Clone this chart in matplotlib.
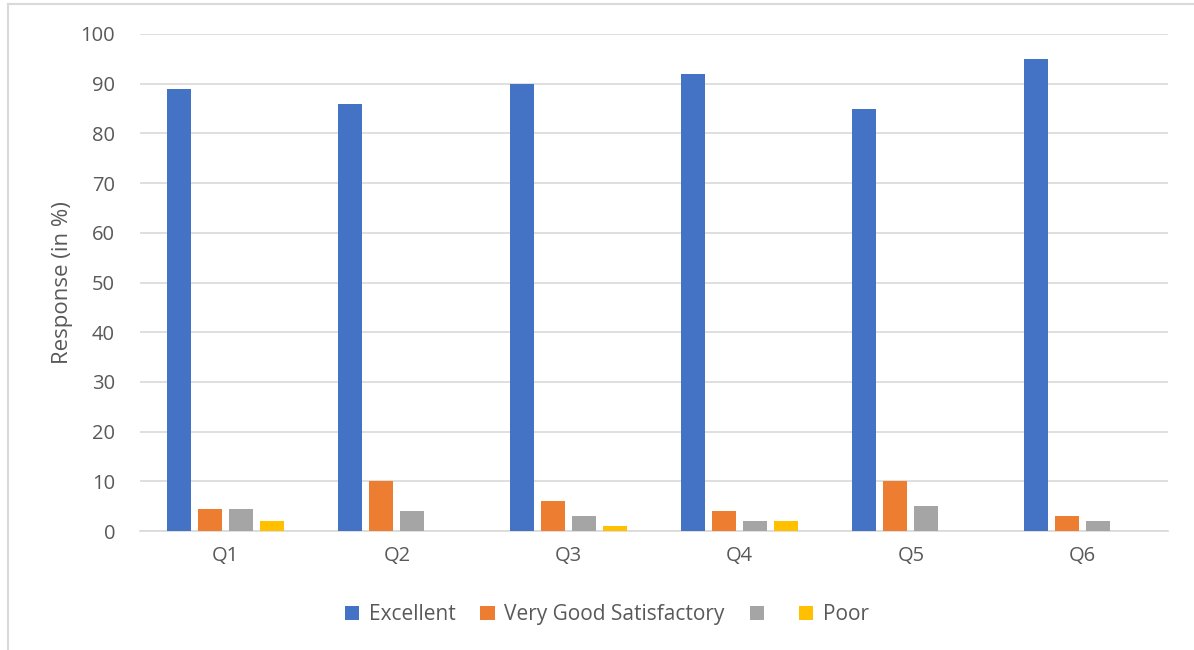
import matplotlib.pyplot as plt
import numpy as np
from matplotlib.lines import Line2D
from matplotlib.patches import Patch

plt.rcParams["font.family"] = ["Open Sans", "DejaVu Sans"]

questions = ["Q1", "Q2", "Q3", "Q4", "Q5", "Q6"]
excellent = [89, 86, 90, 92, 85, 95]
very_good = [4.5, 10, 6, 4, 10, 3]
satisfactory = [4.5, 4, 3, 2, 5, 2]
poor = [2, 0, 1, 2, 0, 0]

series = [excellent, very_good, satisfactory, poor]
legend_labels = ["Excellent", "Very Good Satisfactory", "", "Poor"]
colors = ["#4472C4", "#ED7D31", "#A5A5A5", "#FFC000"]

TEXT = "#595959"
GRID = "#D9D9D9"

fig = plt.figure(figsize=(11.94, 6.5), dpi=100)
ax = fig.add_axes([0.1173, 0.183, 0.8607, 0.7647])

x = np.arange(len(questions))
width = 0.14
step = 0.181
for i, (vals, c) in enumerate(zip(series, colors)):
    ax.bar(x + (i - 1.5) * step, vals, width=width, color=c, zorder=3)

ax.set_xlim(-0.5, len(questions) - 0.5)
ax.set_ylim(0, 100)
ax.set_yticks(range(0, 101, 10))
ax.set_xticks(x)
ax.set_xticklabels(questions)
ax.grid(axis="y", color=GRID, linewidth=1.2, zorder=0)
for s in ["top", "right", "left"]:
    ax.spines[s].set_visible(False)
ax.spines["bottom"].set_color(GRID)
ax.spines["bottom"].set_linewidth(1.2)
ax.tick_params(axis="both", length=0, labelsize=14.5, colors=TEXT)
ax.tick_params(axis="y", pad=18)
ax.tick_params(axis="x", pad=11)
ax.set_ylabel("Response (in %)", fontsize=16, color=TEXT, labelpad=5)

handles = [Patch(facecolor=c, edgecolor="none") for c in colors]
fig.legend(handles, legend_labels, loc="center", bbox_to_anchor=(0.508, 0.054),
           ncol=4, frameon=False, fontsize=15, labelcolor=TEXT,
           handlelength=0.7, handleheight=0.7, handletextpad=0.45,
           columnspacing=1.2)

# outer chart border (left and top edges visible)
fig.add_artist(Line2D([0.0063, 0.0063], [0.0, 0.9938], transform=fig.transFigure,
                      color=GRID, linewidth=1.5))
fig.add_artist(Line2D([0.0063, 1.0], [0.9938, 0.9938], transform=fig.transFigure,
                      color=GRID, linewidth=1.5))

fig.savefig("out.png", dpi=100)
